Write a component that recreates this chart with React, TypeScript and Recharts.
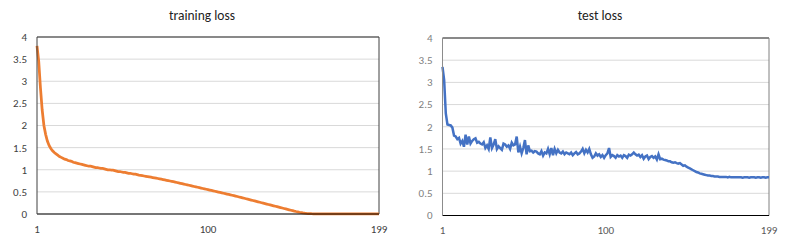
import React from 'react';
import { LineChart, Line, XAxis, YAxis, CartesianGrid, ReferenceLine } from 'recharts';

const epochs: number[] = Array.from({ length: 199 }, (_, i) => i + 1);

const trainingLoss: number[] = [
  3.8, 3.45, 2.85, 2.35, 2.0, 1.8, 1.65, 1.55, 1.48, 1.43,
  1.39, 1.36, 1.33, 1.30, 1.28, 1.26, 1.24, 1.23, 1.21, 1.20,
  1.19, 1.17, 1.16, 1.15, 1.14, 1.13, 1.12, 1.11, 1.10, 1.09,
  1.08, 1.08, 1.07, 1.06, 1.05, 1.05, 1.04, 1.03, 1.03, 1.02,
  1.01, 1.00, 1.00, 0.99, 0.99, 0.98, 0.97, 0.96, 0.96, 0.95,
  0.94, 0.94, 0.93, 0.92, 0.92, 0.91, 0.90, 0.90, 0.89, 0.88,
  0.873, 0.866, 0.859, 0.852, 0.845, 0.838, 0.831, 0.824, 0.817, 0.81,
  0.802, 0.794, 0.786, 0.778, 0.77, 0.762, 0.754, 0.746, 0.738, 0.73,
  0.721, 0.712, 0.703, 0.694, 0.685, 0.676, 0.667, 0.658, 0.649, 0.64,
  0.631, 0.622, 0.613, 0.604, 0.595, 0.586, 0.577, 0.568, 0.559, 0.55,
  0.541, 0.532, 0.523, 0.514, 0.505, 0.496, 0.487, 0.478, 0.469, 0.46,
  0.451, 0.442, 0.433, 0.424, 0.415, 0.405, 0.395, 0.385, 0.375, 0.365,
  0.355, 0.345, 0.335, 0.325, 0.315, 0.305, 0.295, 0.285, 0.275, 0.265,
  0.255, 0.245, 0.235, 0.225, 0.215, 0.205, 0.195, 0.185, 0.175, 0.165,
  0.155, 0.145, 0.135, 0.125, 0.115, 0.105, 0.095, 0.085, 0.075, 0.065,
  0.056, 0.048, 0.04, 0.033, 0.026, 0.02, 0.015, 0.011, 0.008, 0.006,
  0.005, 0.005, 0.005, 0.004, 0.004, 0.004, 0.004, 0.003, 0.003, 0.003,
  0.003, 0.003, 0.003, 0.003, 0.003, 0.003, 0.002, 0.002, 0.002, 0.002,
  0.002, 0.002, 0.002, 0.002, 0.002, 0.002, 0.002, 0.002, 0.002, 0.002,
  0.002, 0.002, 0.002, 0.002, 0.002, 0.002, 0.002, 0.002, 0.002,
];

const testLoss: number[] = [
  3.35, 3.05, 2.3, 2.05, 2.04, 2.03, 1.98, 1.8, 1.78, 1.72,
  1.75, 1.62, 1.68, 1.55, 1.82, 1.6, 1.78, 1.62, 1.68, 1.72,
  1.74, 1.64, 1.66, 1.62, 1.6, 1.65, 1.52, 1.58, 1.5, 1.76,
  1.52, 1.6, 1.72, 1.5, 1.56, 1.52, 1.48, 1.62, 1.6, 1.55,
  1.58, 1.5, 1.64, 1.58, 1.6, 1.78, 1.42, 1.55, 1.4, 1.52,
  1.7, 1.38, 1.58, 1.45, 1.46, 1.42, 1.45, 1.44, 1.4, 1.38,
  1.45, 1.35, 1.42, 1.4, 1.5, 1.38, 1.52, 1.36, 1.5, 1.4,
  1.48, 1.42, 1.4, 1.44, 1.38, 1.42, 1.4, 1.38, 1.42, 1.36,
  1.4, 1.43, 1.38, 1.4, 1.44, 1.5, 1.4, 1.48, 1.42, 1.5,
  1.38, 1.3, 1.33, 1.4, 1.35, 1.38, 1.32, 1.36, 1.3, 1.36,
  1.4, 1.52, 1.32, 1.36, 1.34, 1.3, 1.36, 1.33, 1.35, 1.3,
  1.36, 1.34, 1.3, 1.37, 1.35, 1.38, 1.42, 1.38, 1.35, 1.37,
  1.32, 1.36, 1.28, 1.33, 1.35, 1.27, 1.32, 1.34, 1.3, 1.33,
  1.26, 1.38, 1.27, 1.28, 1.26, 1.25, 1.24, 1.22, 1.22, 1.2,
  1.19, 1.2, 1.18, 1.17, 1.18, 1.15, 1.12, 1.13, 1.1, 1.08,
  1.06, 1.04, 1.02, 1.0, 0.98, 0.97, 0.95, 0.94, 0.93, 0.92,
  0.91, 0.9, 0.9, 0.89, 0.89, 0.88, 0.88, 0.88, 0.87, 0.87,
  0.87, 0.87, 0.87, 0.86, 0.87, 0.86, 0.86, 0.86, 0.86, 0.86,
  0.86, 0.86, 0.85, 0.86, 0.86, 0.86, 0.85, 0.86, 0.86, 0.86,
  0.85, 0.86, 0.86, 0.85, 0.86, 0.86, 0.85, 0.86, 0.86,
];

const yTicks: number[] = [0, 0.5, 1, 1.5, 2, 2.5, 3, 3.5, 4];
const xTicks: number[] = [1, 100, 199];

const rows = epochs.map((e, i) => ({ epoch: e, train: trainingLoss[i], test: testLoss[i] }));

const FONT = 'Carlito, Calibri, Lato, sans-serif';

export default function App() {
  return (
    <div style={{ position: 'absolute', left: 0, top: 0, width: 788, height: 252, background: '#fff', fontFamily: FONT }}>
      <div style={{ position: 'absolute', left: 102, width: 200, top: 6, textAlign: 'center', fontSize: 13.5, color: '#222', lineHeight: '20px' }}>
        training loss
      </div>
      <div style={{ position: 'absolute', left: 500, width: 200, top: 6, textAlign: 'center', fontSize: 13.5, color: '#222', lineHeight: '20px' }}>
        test loss
      </div>
      <div style={{ position: 'absolute', left: 0, top: 0 }}>
        <LineChart width={394} height={252} data={rows} margin={{ top: 37, right: 15, bottom: 8, left: 0 }}>
          <CartesianGrid vertical={false} stroke="#d9d9d9" strokeWidth={1} />
          <XAxis
            dataKey="epoch"
            type="number"
            domain={[1, 199]}
            ticks={xTicks}
            height={30}
            tickSize={0}
            tickMargin={11}
            axisLine={{ stroke: '#000', strokeWidth: 1 }}
            tick={{ fill: '#404040', fontSize: 11, fontFamily: FONT }}
            interval={0}
          />
          <YAxis
            type="number"
            domain={[0, 4]}
            ticks={yTicks}
            width={37}
            tickSize={0}
            tickMargin={10}
            axisLine={{ stroke: '#404040', strokeWidth: 1 }}
            tick={{ fill: '#404040', fontSize: 11, fontFamily: FONT }}
            interval={0}
          />
          <ReferenceLine y={4} stroke="#262626" strokeWidth={1} />
          <ReferenceLine x={199} stroke="#404040" strokeWidth={1} />
          <Line type="linear" dataKey="train" stroke="#ED7D31" strokeWidth={2.75} dot={false} isAnimationActive={false} />
        </LineChart>
      </div>
      <div style={{ position: 'absolute', left: 394, top: 0 }}>
        <LineChart width={394} height={252} data={rows} margin={{ top: 38, right: 19, bottom: 6.5, left: 0 }}>
          <CartesianGrid vertical={false} stroke="#d9d9d9" strokeWidth={1} />
          <XAxis
            dataKey="epoch"
            type="number"
            domain={[1, 199]}
            ticks={xTicks}
            height={30}
            tickSize={0}
            tickMargin={11}
            axisLine={{ stroke: '#000', strokeWidth: 1 }}
            tick={{ fill: '#595959', fontSize: 11, fontFamily: FONT }}
            interval={0}
          />
          <YAxis
            type="number"
            domain={[0, 4]}
            ticks={yTicks}
            width={48.5}
            tickSize={0}
            tickMargin={10}
            axisLine={{ stroke: '#8c8c8c', strokeWidth: 1 }}
            tick={{ fill: '#808080', fontSize: 11, fontFamily: FONT }}
            interval={0}
          />
          <ReferenceLine y={4} stroke="#262626" strokeWidth={1} />
          <ReferenceLine x={199} stroke="#808080" strokeWidth={1} />
          <Line type="linear" dataKey="test" stroke="#4472C4" strokeWidth={2.5} dot={false} isAnimationActive={false} />
        </LineChart>
      </div>
    </div>
  );
}
